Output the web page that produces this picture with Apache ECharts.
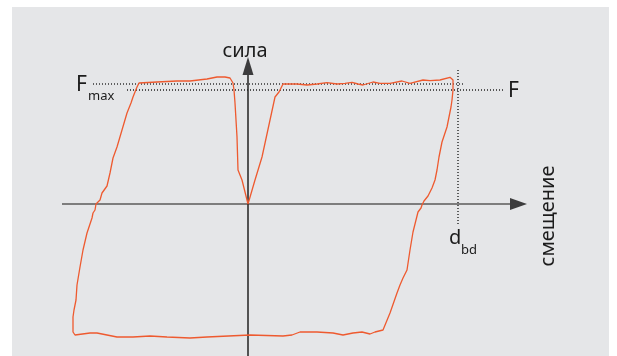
<!DOCTYPE html>
<html>
<head>
<meta charset="utf-8">
<script src="https://cdn.jsdelivr.net/npm/echarts@6/dist/echarts.min.js"></script>
<style>
  html, body { margin: 0; padding: 0; background: #ffffff; }
  #chart { width: 617px; height: 356px; }
</style>
</head>
<body>
<div id="chart"></div>
<script>
// Hysteresis loop: force against displacement (arbitrary units)
const displacement = [
  0, 0.7, 1.4, 2.7, 3.1, 3.5, 3.7,
  4.9, 5.9, 6.9, 7.9, 8.9, 9.7, 10.4, 11.0, 11.5, 12.5, 13.2, 14.2, 15.4, 16.2, 17.5, 18.2, 19.2, 20.2, 20.5,
  20.5, 20.4, 20.3, 19.9, 19.4, 19.1, 18.9, 18.7, 18.4, 18.0, 17.6, 17.4, 17.3, 17.0, 16.8, 16.5, 16.2, 15.9, 15.5, 15.2, 14.9, 14.2, 13.5,
  12.7, 12.2, 11.4, 10.5, 9.5, 8.5, 6.9, 5.2, 4.4, 3.5, 0.2, -4.1, -5.8, -8.1, -9.8, -11.5, -13.1, -15.1, -15.8, -17.3, -17.5,
  -17.5, -17.4, -17.2, -17.1, -16.8, -16.5, -16.1, -15.8, -15.6, -15.5, -15.3, -15.2, -15.0, -14.8, -14.6, -14.1, -13.8, -13.5, -13.1, -12.6, -12.1, -11.7, -11.5, -11.1, -10.9,
  -9.1, -7.1, -5.8, -4.1, -3.1, -2.3, -1.8, -1.5, -1.4, -1.3, -1.1, -1.0, -0.6, 0
];
const force = [
  0, 2.4, 4.7, 10.7, 11.2, 12.0, 12.13,
  12.0, 11.9, 12.0, 12.13, 12.0, 12.07, 12.17, 12.0, 11.9, 12.2, 12.07, 12.07, 12.3, 12.07, 12.4, 12.33, 12.4, 12.67, 12.4,
  11.4, 10.4, 9.7, 7.7, 6.2, 4.7, 3.4, 2.4, 1.6, 0.8, 0.3, -0.1, -0.4, -0.8, -1.6, -2.8, -4.6, -6.6, -7.4, -8.1, -8.9, -10.9, -12.6,
  -12.8, -13.0, -12.8, -12.9, -13.1, -12.9, -12.8, -12.8, -13.1, -13.2, -13.1, -13.3, -13.4, -13.3, -13.2, -13.3, -13.3, -12.9, -12.9, -13.1, -12.8,
  -11.3, -10.6, -9.6, -8.1, -6.3, -4.6, -2.9, -2.0, -1.4, -0.9, -0.6, 0, 0.2, 0.4, 1.1, 1.8, 3.1, 4.6, 5.7, 7.4, 9.1, 10.1, 10.7, 11.7, 12.1,
  12.2, 12.3, 12.3, 12.5, 12.7, 12.7, 12.6, 12.1, 11.4, 10.1, 6.7, 3.4, 2.4, 0
];

// Reference levels
const forceMax = 12.0;      // F_max
const forceYield = 11.4;    // F
const dispBd = 21.0;        // d_bd

const loop = displacement.map((d, i) => [d, force[i]]);

const FONT = '"Noto Sans", "DejaVu Sans", sans-serif';
const INK = '#1c1c1c';

const chart = echarts.init(document.getElementById('chart'), null, { renderer: 'canvas' });

chart.setOption({
  animation: false,
  backgroundColor: '#ffffff',
  grid: { left: 0, right: 0, top: 0, bottom: 0 },
  xAxis: { type: 'value', min: -24.8, max: 36.9, show: false },
  yAxis: { type: 'value', min: -15.2, max: 20.4, show: false },
  graphic: [
    { type: 'rect', z: -10, silent: true, shape: { x: 12, y: 7, width: 597, height: 352 }, style: { fill: '#e5e6e8' } },
    { type: 'text', z: 10, style: { x: 245, y: 51, text: 'сила', font: '20px ' + FONT, fill: INK, textAlign: 'center', textVerticalAlign: 'middle' } },
    { type: 'text', z: 10, style: { x: 76, y: 85, text: 'F', font: '21px ' + FONT, fill: INK, textAlign: 'left', textVerticalAlign: 'middle' } },
    { type: 'text', z: 10, style: { x: 88, y: 96, text: 'max', font: '13px ' + FONT, fill: INK, textAlign: 'left', textVerticalAlign: 'middle' } },
    { type: 'text', z: 10, style: { x: 508, y: 91, text: 'F', font: '21px ' + FONT, fill: INK, textAlign: 'left', textVerticalAlign: 'middle' } },
    { type: 'text', z: 10, style: { x: 449, y: 238, text: 'd', font: '20px ' + FONT, fill: INK, textAlign: 'left', textVerticalAlign: 'middle' } },
    { type: 'text', z: 10, style: { x: 461, y: 250, text: 'bd', font: '13px ' + FONT, fill: INK, textAlign: 'left', textVerticalAlign: 'middle' } },
    { type: 'text', z: 10, x: 548, y: 216, rotation: Math.PI / 2, style: { x: 0, y: 0, text: 'смещение', font: '20px ' + FONT, fill: INK, textAlign: 'center', textVerticalAlign: 'middle' } }
  ],
  series: [
    {
      name: 'displacement axis', type: 'line', silent: true, symbol: 'none', z: 3,
      data: [[-18.6, 0], [26.2, 0]],
      lineStyle: { color: '#7d7d7d', width: 2 }
    },
    {
      name: 'force axis', type: 'line', silent: true, symbol: 'none', z: 4,
      data: [[0, -15.2], [0, 12.9]],
      lineStyle: { color: '#222222', width: 1.5 }
    },
    {
      name: 'F_max level', type: 'line', silent: true, symbol: 'none', z: 2,
      data: [[-15.5, forceMax], [21.5, forceMax]],
      lineStyle: { color: '#333333', width: 1.4, type: [1, 2] }
    },
    {
      name: 'F level', type: 'line', silent: true, symbol: 'none', z: 2,
      data: [[-12.1, forceYield], [25.7, forceYield]],
      lineStyle: { color: '#222222', width: 1.4, type: [1, 2] }
    },
    {
      name: 'd_bd level', type: 'line', silent: true, symbol: 'none', z: 2,
      data: [[dispBd, 13.4], [dispBd, -2.1]],
      lineStyle: { color: '#222222', width: 1.4, type: [1, 2] }
    },
    {
      name: 'loop', type: 'line', silent: true, symbol: 'none', z: 5,
      data: loop,
      lineStyle: { color: '#ee5a2f', width: 1.3 }
    },
    {
      name: 'arrows', type: 'scatter', silent: true, z: 6,
      symbol: 'triangle',
      data: [
        { value: [27.05, 0], symbolSize: [12, 17], symbolRotate: -90 },
        { value: [0, 13.8], symbolSize: [11, 18], symbolRotate: 0 }
      ],
      itemStyle: { color: '#111111' }
    }
  ]
});
</script>
</body>
</html>
